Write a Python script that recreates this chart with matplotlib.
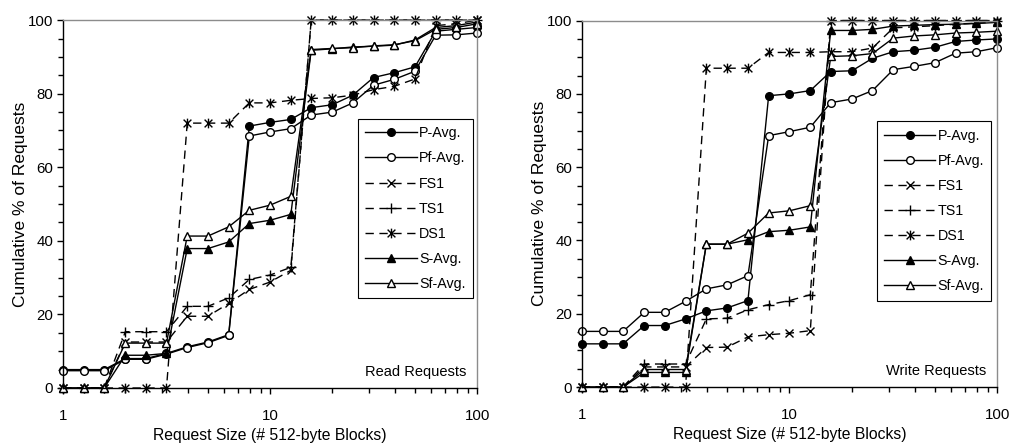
import matplotlib
matplotlib.use("Agg")
import matplotlib.pyplot as plt
from matplotlib.path import Path
from matplotlib.ticker import FixedLocator, NullFormatter, MultipleLocator

plt.rcParams['font.family'] = ['Liberation Sans', 'DejaVu Sans']
plt.rcParams['font.size'] = 10

# Request sizes (512-byte blocks), log-spaced bins
sizes = [1, 1.26, 1.58, 2, 2.51, 3.16, 3.98, 5.01, 6.31, 7.94, 10,
         12.6, 15.8, 20, 25.1, 31.6, 39.8, 50.1, 63.1, 79.4, 100]

series_names = ["P-Avg.", "Pf-Avg.", "FS1", "TS1", "DS1", "S-Avg.", "Sf-Avg."]

# Read requests: cumulative % of requests
read_p_avg = [5, 5, 5, 8, 8, 9.4, 11.2, 12.5, 14.5, 71.2, 72.2, 73.0, 76.2, 77.0, 79.6, 84.4, 85.7, 87.3, 97, 97.5, 98]
read_pf_avg = [4.7, 4.7, 4.7, 7.8, 7.8, 9.2, 11, 12.3, 14.3, 68.5, 69.6, 70.5, 74.2, 75.0, 77.5, 82.3, 83.9, 86.1, 95.9, 96, 96.5]
read_fs1 = [0, 0, 0, 12.5, 12.5, 12.5, 19.5, 19.5, 23, 26.8, 28.8, 32, 100, 100, 100, 100, 100, 100, 100, 100, 100]
read_ts1 = [0, 0, 0, 15.3, 15.3, 15.3, 22.2, 22.2, 24.5, 29.5, 30.7, 32.8, 100, 100, 100, 100, 100, 100, 100, 100, 100]
read_ds1 = [0, 0, 0, 0, 0, 0, 72, 72, 72, 77.5, 77.5, 78.2, 78.7, 78.9, 79.6, 81.1, 82, 84, 98.5, 99, 100]
read_s_avg = [0, 0, 0, 8.9, 8.9, 9.4, 37.9, 37.9, 39.7, 44.7, 45.6, 47.2, 91.8, 92.2, 92.7, 92.9, 93.2, 94.6, 98, 98.5, 99.5]
read_sf_avg = [0, 0, 0, 12.2, 12.2, 12.2, 41.3, 41.3, 43.8, 48.3, 49.7, 52.1, 92, 92.3, 92.5, 93, 93.3, 94.4, 97.5, 98, 99]

# Write requests: cumulative % of requests
write_p_avg = [11.8, 11.8, 11.8, 16.8, 16.8, 18.6, 20.8, 21.6, 23.6, 79.5, 80.0, 80.9, 86.1, 86.3, 89.7, 91.5, 91.9, 92.7, 94.3, 94.7, 95.0]
write_pf_avg = [15.2, 15.2, 15.2, 20.4, 20.4, 23.4, 26.8, 27.9, 30.4, 68.6, 69.7, 70.9, 77.6, 78.6, 80.9, 86.6, 87.5, 88.5, 91.1, 91.5, 92.6]
write_fs1 = [0, 0, 0, 5.5, 5.5, 5.5, 10.8, 10.9, 13.7, 14.3, 14.7, 15.4, 100, 100, 100, 100, 100, 100, 100, 100, 100]
write_ts1 = [0, 0, 0, 6.3, 6.3, 6.3, 18.6, 18.8, 21.1, 22.5, 23.6, 25.2, 100, 100, 100, 100, 100, 100, 100, 100, 100]
write_ds1 = [0, 0, 0, 0, 0, 0, 87, 87, 87, 91.3, 91.3, 91.3, 91.5, 91.5, 92.5, 98, 98.3, 98.6, 99, 99.3, 99.6]
write_s_avg = [0, 0, 0, 4, 4, 4, 39, 39, 40.2, 42.4, 42.8, 43.7, 97.3, 97.3, 97.6, 98.5, 98.7, 98.9, 99, 99.2, 99.5]
write_sf_avg = [0, 0, 0, 4.8, 4.8, 4.8, 39, 39, 42, 47.5, 48.1, 49.5, 90.2, 90.4, 91, 95.2, 95.8, 96.1, 96.6, 96.8, 97.1]

x_tick_labels = ["1", "10", "100"]

# Asterisk marker: an X with a vertical bar
asterisk = Path([(0, -1), (0, 1), (-0.8, -0.8), (0.8, 0.8), (-0.8, 0.8), (0.8, -0.8)],
                [Path.MOVETO, Path.LINETO] * 3)

dash = (0, (6, 4))
styles = [
    dict(ls='-', marker='o', ms=5.5, mfc='black'),
    dict(ls='-', marker='o', ms=5.5, mfc='white'),
    dict(ls=dash, marker='x', ms=6),
    dict(ls=dash, marker='+', ms=7.5),
    dict(ls=dash, marker=asterisk, ms=7),
    dict(ls='-', marker='^', ms=6, mfc='black'),
    dict(ls='-', marker='^', ms=6, mfc='white'),
]

fig = plt.figure(figsize=(10.1, 4.47), dpi=100)
ax_r = fig.add_axes([0.0624, 0.132, 0.410, 0.823])
ax_w = fig.add_axes([0.576, 0.134, 0.4113, 0.820])


def draw(ax, data, title, legend_anchor):
    for name, vals, st in zip(series_names, data, styles):
        ax.plot(sizes, vals, color='black', lw=1.0, mec='black', mew=1.0,
                label=name, clip_on=False, **st)
    ax.set_xscale('log')
    ax.set_xlim(1, 100)
    ax.set_ylim(0, 100)
    ax.xaxis.set_major_locator(FixedLocator([1, 10, 100]))
    ax.set_xticklabels(x_tick_labels)
    ax.xaxis.set_minor_locator(FixedLocator([2, 3, 4, 5, 6, 7, 8, 9,
                                             20, 30, 40, 50, 60, 70, 80, 90]))
    ax.xaxis.set_minor_formatter(NullFormatter())
    ax.yaxis.set_major_locator(MultipleLocator(20))
    ax.yaxis.set_minor_locator(MultipleLocator(5))
    ax.tick_params(which='both', direction='out', width=1.0, colors='black',
                   labelsize=10.8)
    ax.tick_params(which='major', length=4)
    ax.tick_params(axis='y', which='major', pad=3)
    ax.tick_params(which='minor', length=3.5)
    ax.tick_params(axis='x', which='major', pad=11)
    for s in ('left', 'bottom'):
        ax.spines[s].set_color('black')
        ax.spines[s].set_linewidth(1.0)
    for s in ('top', 'right'):
        ax.spines[s].set_color('#8c8c8c')
        ax.spines[s].set_linewidth(1.0)
    ax.set_xlabel("Request Size (# 512-byte Blocks)", labelpad=4, fontsize=11.3)
    ax.set_ylabel("Cumulative % of Requests", labelpad=0, fontsize=12.5)
    ax.text(0.973, 0.033, title, transform=ax.transAxes, ha='right',
            va='baseline', fontsize=10.5)
    leg = ax.legend(loc='upper left', bbox_to_anchor=legend_anchor,
                    borderaxespad=0, fancybox=False, framealpha=1,
                    edgecolor='black', handlelength=3.6, handletextpad=0.15,
                    labelspacing=0.78, borderpad=0.5, fontsize=10.3)
    leg.get_frame().set_linewidth(0.8)


draw(ax_r, [read_p_avg, read_pf_avg, read_fs1, read_ts1, read_ds1,
            read_s_avg, read_sf_avg], "Read Requests", (0.713, 0.731))
draw(ax_w, [write_p_avg, write_pf_avg, write_fs1, write_ts1, write_ds1,
            write_s_avg, write_sf_avg], "Write Requests", (0.710, 0.725))

fig.savefig("out.png", dpi=100)
